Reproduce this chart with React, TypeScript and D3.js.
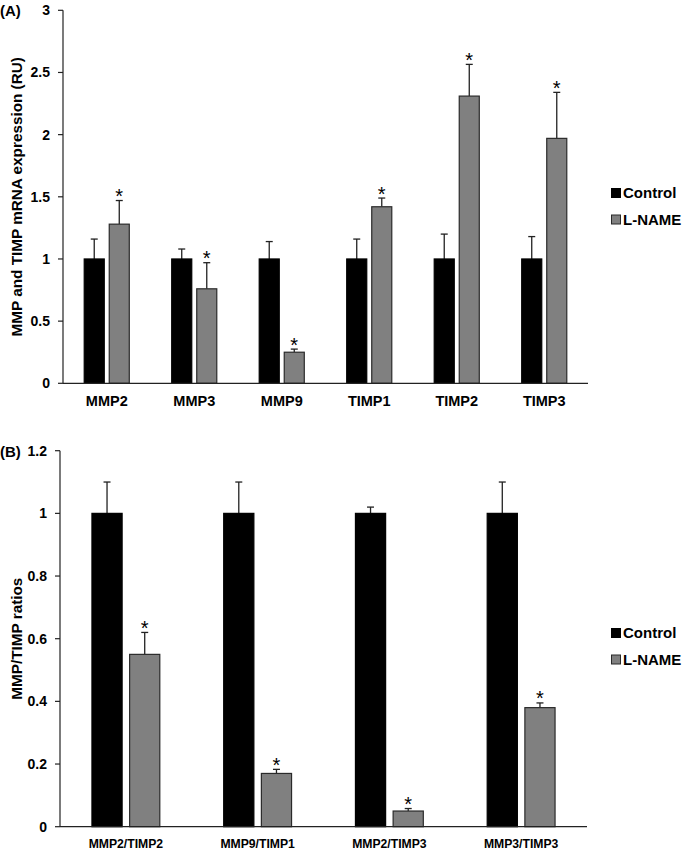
import React from 'react';
import * as d3 from 'd3';

const catsA = ['MMP2', 'MMP3', 'MMP9', 'TIMP1', 'TIMP2', 'TIMP3'];
const controlA = [1, 1, 1, 1, 1, 1];
const controlErrA = [0.16, 0.08, 0.14, 0.16, 0.2, 0.18];
const lnameA = [1.28, 0.76, 0.25, 1.42, 2.31, 1.97];
const lnameErrA = [0.19, 0.21, 0.025, 0.07, 0.255, 0.37];
const ticksA = [0, 0.5, 1, 1.5, 2, 2.5, 3];

const catsB = ['MMP2/TIMP2', 'MMP9/TIMP1', 'MMP2/TIMP3', 'MMP3/TIMP3'];
const controlB = [1, 1, 1, 1];
const controlErrB = [0.1, 0.1, 0.02, 0.1];
const lnameB = [0.55, 0.17, 0.05, 0.38];
const lnameErrB = [0.07, 0.013, 0.008, 0.015];
const ticksB = [0, 0.2, 0.4, 0.6, 0.8, 1, 1.2];

const seriesNames = ['Control', 'L-NAME'];
const FONT = '"Liberation Sans", Arial, sans-serif';

type PanelProps = {
  label: string;
  cats: string[];
  control: number[];
  controlErr: number[];
  lname: number[];
  lnameErr: number[];
  ticks: number[];
  yMax: number;
  x0: number;
  x1: number;
  yTop: number;
  yBottom: number;
  yTitle: string;
  yTitleX: number;
  yTitleSize: number;
  xTickSize: number;
  xLabelY: number;
  legendY: number;
  labelY: number;
};

function Panel(p: PanelProps) {
  const x = d3.scaleBand<string>().domain(p.cats).range([p.x0, p.x1]).padding(0);
  const y = d3.scaleLinear().domain([0, p.yMax]).range([p.yBottom, p.yTop]);
  const bw = x.bandwidth();
  const barW = bw * 0.229;
  const gap = bw * 0.057;
  const fmt = (v: number) => (Math.round(v * 10) / 10).toString();
  const marks: React.ReactNode[] = [];
  p.cats.forEach((c, i) => {
    const cx = (x(c) as number) + bw / 2;
    const groups = [
      { v: p.control[i], e: p.controlErr[i], fill: '#000000', stroke: '#000000', left: cx - gap / 2 - barW, star: false },
      { v: p.lname[i], e: p.lnameErr[i], fill: '#808080', stroke: '#2a2a2a', left: cx + gap / 2, star: true },
    ];
    groups.forEach((g, j) => {
      const top = y(g.v);
      const et = y(g.v + g.e);
      const mid = g.left + barW / 2;
      marks.push(
        <g key={`${c}-${j}`}>
          <line x1={mid} x2={mid} y1={top} y2={et} stroke="#222" strokeWidth={1.3} />
          <line x1={mid - 3.5} x2={mid + 3.5} y1={et} y2={et} stroke="#222" strokeWidth={1.3} />
          <rect x={g.left} y={top} width={barW} height={p.yBottom - top} fill={g.fill} stroke={g.stroke} strokeWidth={1.2} />
          {g.star && (
            <text x={mid} y={et + 2.5} textAnchor="middle" fontSize={20} fontFamily={FONT} fill="#000">*</text>
          )}
        </g>
      );
    });
  });
  return (
    <g>
      <text x={0} y={p.labelY} dy="0.35em" fontSize={15} fontWeight="bold" fontFamily={FONT}>{p.label}</text>
      {marks}
      <line x1={p.x0} x2={p.x0} y1={p.yTop} y2={p.yBottom} stroke="#222" strokeWidth={1.2} />
      <line x1={p.x0} x2={p.x1} y1={p.yBottom} y2={p.yBottom} stroke="#222" strokeWidth={1.2} />
      {p.ticks.map((t) => (
        <g key={t}>
          <line x1={p.x0 - 5} x2={p.x0} y1={y(t)} y2={y(t)} stroke="#222" strokeWidth={1.2} />
          <text x={p.x0 - 13} y={y(t)} dy="0.35em" textAnchor="end" fontSize={14} fontWeight="bold" fontFamily={FONT}>{fmt(t)}</text>
        </g>
      ))}
      {p.cats.map((c) => (
        <text key={c} x={(x(c) as number) + bw / 2} y={p.xLabelY} dy="0.35em" textAnchor="middle" fontSize={p.xTickSize} fontWeight="bold" fontFamily={FONT}>{c}</text>
      ))}
      <text transform={`translate(${p.yTitleX},${(p.yTop + p.yBottom) / 2}) rotate(-90)`} textAnchor="middle" dy="0.35em" fontSize={p.yTitleSize} fontWeight="bold" fontFamily={FONT}>{p.yTitle}</text>
      {seriesNames.map((s, i) => (
        <g key={s}>
          <rect x={611.5} y={p.legendY + i * 26.5 - 4.5} width={9} height={9} fill={i === 0 ? '#000' : '#808080'} stroke={i === 0 ? '#000' : '#2a2a2a'} strokeWidth={1} />
          <text x={623} y={p.legendY + i * 26.5} dy="0.35em" fontSize={15} fontWeight="bold" fontFamily={FONT}>{s}</text>
        </g>
      ))}
    </g>
  );
}

export default function App() {
  return (
    <svg width={685} height={852} style={{ position: 'absolute', left: 0, top: 0, background: '#fff' }}>
      <rect width={685} height={852} fill="#fff" />
      <Panel
        label="(A)"
        cats={catsA}
        control={controlA}
        controlErr={controlErrA}
        lname={lnameA}
        lnameErr={lnameErrA}
        ticks={ticksA}
        yMax={3}
        x0={63}
        x1={588}
        yTop={10.3}
        yBottom={383.3}
        yTitle="MMP and TIMP mRNA expression (RU)"
        yTitleX={17}
        yTitleSize={15.3}
        xTickSize={14.5}
        xLabelY={401}
        legendY={193}
        labelY={11}
      />
      <Panel
        label="(B)"
        cats={catsB}
        control={controlB}
        controlErr={controlErrB}
        lname={lnameB}
        lnameErr={lnameErrB}
        ticks={ticksB}
        yMax={1.2}
        x0={60}
        x1={587}
        yTop={450.7}
        yBottom={826.7}
        yTitle="MMP/TIMP ratios"
        yTitleX={16.5}
        yTitleSize={15.3}
        xTickSize={12.2}
        xLabelY={844}
        legendY={633}
        labelY={452}
      />
    </svg>
  );
}
